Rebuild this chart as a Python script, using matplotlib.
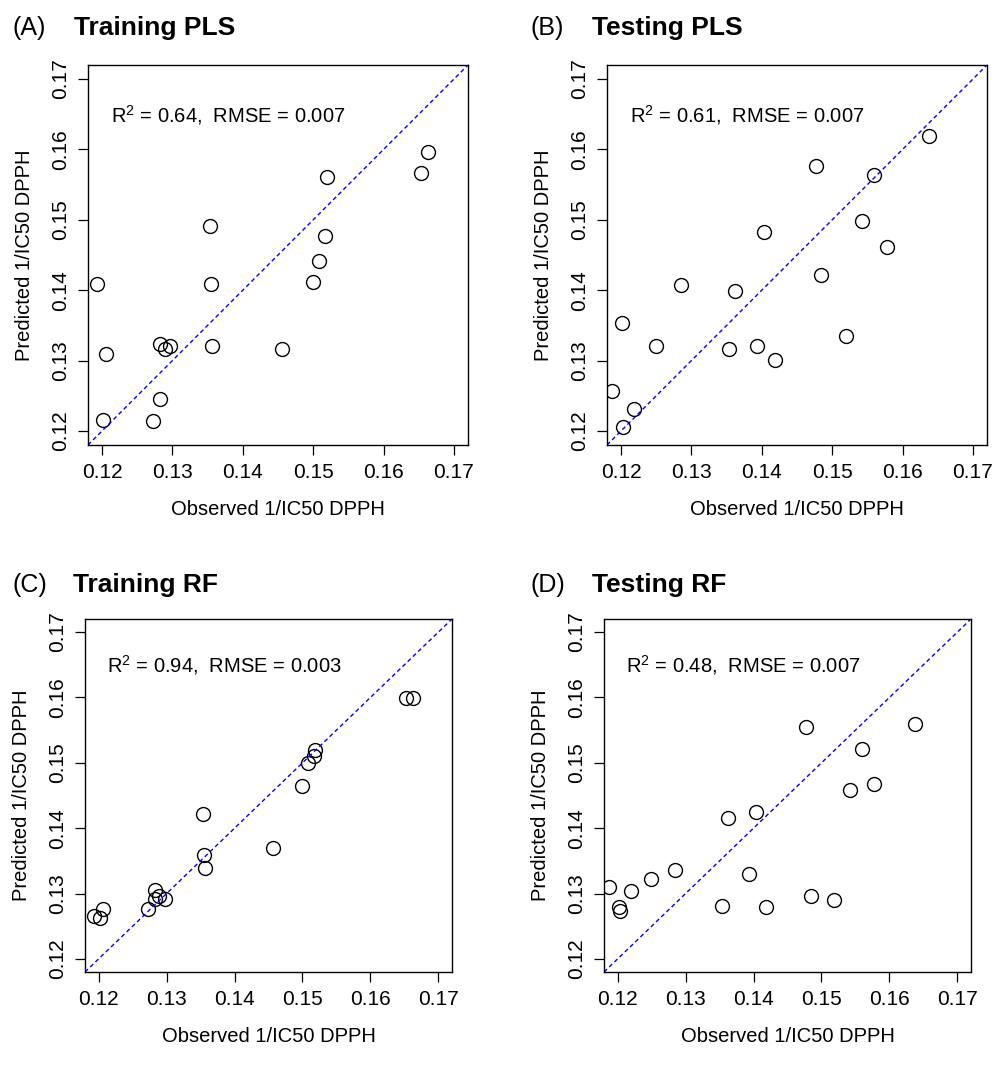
import matplotlib
matplotlib.use("Agg")
import matplotlib.pyplot as plt

plt.rcParams['font.family'] = ['Liberation Sans', 'DejaVu Sans']
plt.rcParams['mathtext.fontset'] = 'custom'
plt.rcParams['mathtext.rm'] = 'Liberation Sans'
plt.rcParams['mathtext.it'] = 'Liberation Sans'

# observed values (training / testing sets)
train_obs = [0.1193, 0.1206, 0.1202, 0.1273, 0.1283, 0.1283, 0.1289, 0.1297, 0.1354,
             0.1355, 0.1356, 0.1456, 0.1500, 0.1508, 0.1517, 0.1519, 0.1653, 0.1663]
test_obs = [0.1187, 0.1202, 0.1203, 0.1219, 0.1249, 0.1285, 0.1354, 0.1362, 0.1393,
            0.1403, 0.1419, 0.1477, 0.1484, 0.1519, 0.1542, 0.1559, 0.1578, 0.1637]

# model predictions
pls_train_pred = [0.1409, 0.1309, 0.1216, 0.1214, 0.1245, 0.1323, 0.1317, 0.1320, 0.1491,
                  0.1409, 0.1321, 0.1317, 0.1411, 0.1442, 0.1477, 0.1561, 0.1566, 0.1596]
pls_test_pred = [0.1257, 0.1353, 0.1205, 0.1231, 0.1320, 0.1408, 0.1316, 0.1399, 0.1320,
                 0.1482, 0.1301, 0.1576, 0.1421, 0.1335, 0.1499, 0.1564, 0.1461, 0.1619]
rf_train_pred = [0.1265, 0.1277, 0.1262, 0.1277, 0.1305, 0.1291, 0.1296, 0.1291, 0.1422,
                 0.1359, 0.1339, 0.1370, 0.1465, 0.1500, 0.1510, 0.1520, 0.1599, 0.1599]
rf_test_pred = [0.1310, 0.1280, 0.1274, 0.1304, 0.1323, 0.1336, 0.1281, 0.1415, 0.1330,
                0.1424, 0.1279, 0.1555, 0.1296, 0.1290, 0.1458, 0.1521, 0.1467, 0.1559]

tags = ['(A)', '(B)', '(C)', '(D)']
titles = ['Training PLS', 'Testing PLS', 'Training RF', 'Testing RF']
r2 = ['0.64', '0.61', '0.94', '0.48']
rmse = ['0.007', '0.007', '0.003', '0.007']
ticks = [0.12, 0.13, 0.14, 0.15, 0.16, 0.17]

W, H = 993, 1067
fig = plt.figure(figsize=(W / 100, H / 100), dpi=100)

# panel boxes in pixels: left, right, top, bottom
boxes = [(88, 468, 65, 445), (607, 987, 65, 445),
         (85, 452, 619, 972), (604, 971, 619, 972)]
title_pos = [(12, 74, 28), (531, 592, 28), (12, 73, 585), (531, 592, 585)]
datasets = [(train_obs, pls_train_pred), (test_obs, pls_test_pred),
            (train_obs, rf_train_pred), (test_obs, rf_test_pred)]

for i in range(4):
    l, r, t, b = boxes[i]
    ax = fig.add_axes([l / W, 1 - b / H, (r - l) / W, (b - t) / H])
    obs, pred = datasets[i]
    ax.plot(obs, pred, 'o', mfc='none', mec='black', ms=10, mew=1.0)
    ax.plot([0.118, 0.172], [0.118, 0.172], color='blue', ls=(0, (3, 2.2)), lw=1.0)
    ax.set_xlim(0.118, 0.172)
    ax.set_ylim(0.118, 0.172)
    ax.set_xticks(ticks)
    ax.set_yticks(ticks)
    ax.set_xticklabels(['%.2f' % v for v in ticks])
    ax.set_yticklabels(['%.2f' % v for v in ticks], rotation=90, va='center')
    ax.tick_params(length=7, width=0.9, labelsize=15, pad=6)
    for s in ax.spines.values():
        s.set_linewidth(1.0)
    ax.set_xlabel('Observed 1/IC50 DPPH', fontsize=14.5, labelpad=13)
    ax.set_ylabel('Predicted 1/IC50 DPPH', fontsize=14.5, labelpad=12)
    ax.text(0.1212, 0.1649, r'R$^2$ = %s,  RMSE = %s' % (r2[i], rmse[i]),
            fontsize=14.5, ha='left', va='center')

    tx, ttx, ty = title_pos[i]
    fig.text(tx / W, 1 - ty / H, tags[i], fontsize=18, ha='left', va='center')
    fig.text(ttx / W, 1 - ty / H, titles[i], fontsize=19, fontweight='bold',
             ha='left', va='center')

fig.savefig('out.png', dpi=100)
